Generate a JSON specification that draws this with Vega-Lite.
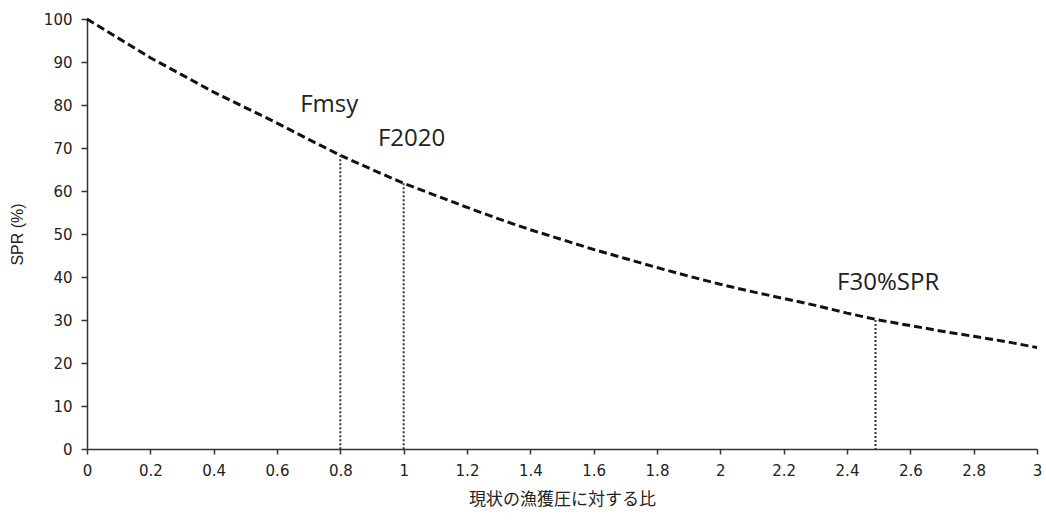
{
  "$schema": "https://vega.github.io/schema/vega-lite/v6.json",
  "width": 950,
  "height": 430,
  "autosize": {"type": "none"},
  "padding": {"left": 87, "top": 19, "right": 9, "bottom": 77},
  "background": "white",
  "config": {
    "view": {"stroke": null},
    "axis": {
      "grid": false,
      "domainColor": "#333333",
      "domainWidth": 1.5,
      "tickColor": "#333333",
      "tickWidth": 1.5,
      "labelFont": "DejaVu Sans",
      "labelFontSize": 15,
      "labelColor": "#222222",
      "titleColor": "#222222",
      "titleFontWeight": "normal"
    }
  },
  "datasets": {
    "curve": [
      {"f": 0.0, "spr": 100.0},
      {"f": 0.1, "spr": 95.5},
      {"f": 0.2, "spr": 91.0},
      {"f": 0.3, "spr": 87.0},
      {"f": 0.4, "spr": 83.0},
      {"f": 0.5, "spr": 79.4},
      {"f": 0.6, "spr": 75.8},
      {"f": 0.7, "spr": 72.0},
      {"f": 0.8, "spr": 68.3},
      {"f": 0.9, "spr": 65.0},
      {"f": 1.0, "spr": 61.8},
      {"f": 1.1, "spr": 59.0},
      {"f": 1.2, "spr": 56.2},
      {"f": 1.3, "spr": 53.5},
      {"f": 1.4, "spr": 51.0},
      {"f": 1.5, "spr": 48.7},
      {"f": 1.6, "spr": 46.4},
      {"f": 1.7, "spr": 44.3},
      {"f": 1.8, "spr": 42.2},
      {"f": 1.9, "spr": 40.2},
      {"f": 2.0, "spr": 38.3},
      {"f": 2.1, "spr": 36.6},
      {"f": 2.2, "spr": 35.0},
      {"f": 2.3, "spr": 33.4},
      {"f": 2.4, "spr": 31.6},
      {"f": 2.5, "spr": 30.0},
      {"f": 2.6, "spr": 28.7},
      {"f": 2.7, "spr": 27.4},
      {"f": 2.8, "spr": 26.2},
      {"f": 2.9, "spr": 25.0},
      {"f": 3.0, "spr": 23.6}
    ],
    "refs": [
      {"f": 0.8, "spr": 68.3, "label": "Fmsy", "lx": 0.765, "ly": 80.0},
      {"f": 1.0, "spr": 61.8, "label": "F2020", "lx": 1.025, "ly": 72.0},
      {"f": 2.49, "spr": 30.0, "label": "F30%SPR", "lx": 2.53, "ly": 38.5}
    ]
  },
  "layer": [
    {
      "data": {"name": "curve"},
      "mark": {"type": "line", "color": "#111111", "strokeWidth": 3, "strokeDash": [8, 4]},
      "encoding": {
        "x": {
          "field": "f",
          "type": "quantitative",
          "scale": {"domain": [0, 3], "nice": false},
          "axis": {
            "values": [0, 0.2, 0.4, 0.6, 0.8, 1, 1.2, 1.4, 1.6, 1.8, 2, 2.2, 2.4, 2.6, 2.8, 3],
            "format": "~g",
            "tickSize": 5,
            "labelPadding": 9,
            "labelFlush": false,
            "title": "現状の漁獲圧に対する比",
            "titleFont": "Noto Sans CJK JP",
            "titleFontSize": 17,
            "titlePadding": 13
          }
        },
        "y": {
          "field": "spr",
          "type": "quantitative",
          "scale": {"domain": [0, 100], "nice": false},
          "axis": {
            "values": [0, 10, 20, 30, 40, 50, 60, 70, 80, 90, 100],
            "tickSize": 6,
            "labelPadding": 9,
            "title": "SPR (%)",
            "titleFont": "Liberation Sans",
            "titleFontSize": 16,
            "titlePadding": 18
          }
        }
      }
    },
    {
      "data": {"name": "refs"},
      "mark": {"type": "rule", "color": "#333333", "strokeWidth": 2, "strokeDash": [2, 2]},
      "encoding": {
        "x": {"field": "f", "type": "quantitative"},
        "y": {"field": "spr", "type": "quantitative"},
        "y2": {"datum": 0}
      }
    },
    {
      "data": {"name": "refs"},
      "mark": {"type": "text", "font": "Open Sans", "fontSize": 24, "color": "#222222", "baseline": "middle", "align": "center"},
      "encoding": {
        "x": {"field": "lx", "type": "quantitative"},
        "y": {"field": "ly", "type": "quantitative"},
        "text": {"field": "label"}
      }
    }
  ]
}
